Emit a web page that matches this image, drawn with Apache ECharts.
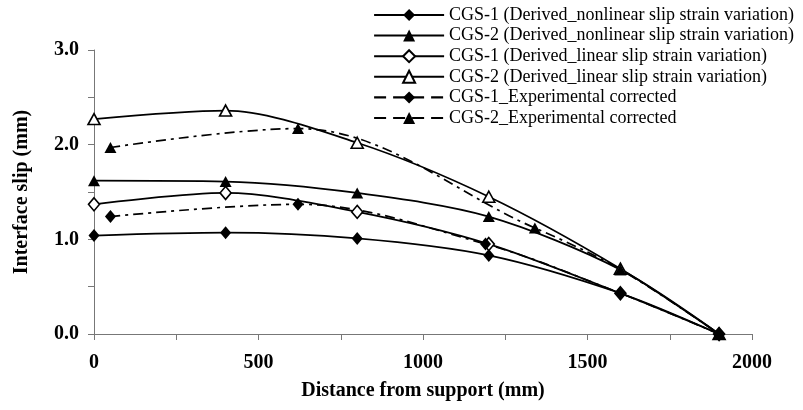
<!DOCTYPE html>
<html>
<head>
<meta charset="utf-8">
<script src="https://cdn.jsdelivr.net/npm/echarts@6/dist/echarts.min.js"></script>
<style>
  html, body { margin: 0; padding: 0; background: #fff; }
  #chart { width: 803px; height: 410px; }
</style>
</head>
<body>
<div id="chart"></div>
<script>
// Distance from support (mm) for the derived curves and the two test records
const xDerived = [0, 400, 800, 1200, 1600, 1900];
const xExp1 = [50, 620, 1190, 1600, 1900];
const xExp2 = [50, 620, 1340, 1600, 1900];

// Interface slip (mm)
const cgs1Nonlinear = [1.04, 1.07, 1.01, 0.83, 0.43, 0.0];
const cgs2Nonlinear = [1.62, 1.61, 1.49, 1.24, 0.68, 0.0];
const cgs1Linear = [1.37, 1.49, 1.29, 0.95, 0.43, 0.0];
const cgs2Linear = [2.27, 2.36, 2.02, 1.45, 0.69, 0.0];
const cgs1Exp = [1.24, 1.37, 0.95, 0.43, 0.0];
const cgs2Exp = [1.97, 2.17, 1.12, 0.68, 0.0];

const seriesNames = [
  'CGS-1 (Derived_nonlinear slip strain variation)',
  'CGS-2 (Derived_nonlinear slip strain variation)',
  'CGS-1 (Derived_linear slip strain variation)',
  'CGS-2 (Derived_linear slip strain variation)',
  'CGS-1_Experimental corrected',
  'CGS-2_Experimental corrected'
];

const FONT = '"Liberation Serif", "Times New Roman", serif';

function pairs(xs, ys) {
  return xs.map((x, i) => [x, ys[i]]);
}

function makeSeries(name, xs, ys, symbol, hollow, dashed) {
  const isDiamond = symbol === 'diamond';
  return {
    name: name,
    type: 'line',
    data: pairs(xs, ys),
    smooth: dashed ? 0.35 : 0.3,
    symbol: symbol,
    symbolSize: isDiamond ? [11, 13] : [12, 11],
    showAllSymbol: true,
    lineStyle: {
      color: '#000',
      width: 1.7,
      type: dashed ? [10, 5, 3, 5] : 'solid'
    },
    itemStyle: {
      color: hollow ? '#fff' : '#000',
      borderColor: '#000',
      borderWidth: hollow ? 1.6 : 0
    },
    emphasis: { disabled: true },
    animation: false
  };
}

// legend keys of the test records use plain long dashes
const legendData = seriesNames.map((name, i) => (
  i >= 4 ? { name: name, lineStyle: { type: [12, 7], width: 2.2 } } : { name: name, lineStyle: { width: 2 } }
));

const chart = echarts.init(document.getElementById('chart'), null, { renderer: 'canvas' });

chart.setOption({
  backgroundColor: '#fff',
  animation: false,
  grid: { left: 94, right: 51, top: 50, bottom: 76 },
  legend: {
    orient: 'vertical',
    left: 373,
    top: 6,
    padding: 0,
    itemWidth: 70,
    itemHeight: 15,
    itemGap: 2.6,
    textStyle: { fontFamily: FONT, fontSize: 18, lineHeight: 18, color: '#000' },
    data: legendData
  },
  xAxis: {
    type: 'value',
    min: 0,
    max: 2000,
    interval: 250,
    name: 'Distance from support (mm)',
    nameLocation: 'middle',
    nameGap: 47,
    nameTextStyle: { fontFamily: FONT, fontSize: 20, fontWeight: 'bold', color: '#000' },
    axisLine: { show: true, lineStyle: { color: '#777', width: 1 } },
    axisTick: { show: true, inside: false, length: 6, lineStyle: { color: '#777' } },
    axisLabel: {
      fontFamily: FONT, fontSize: 20, fontWeight: 'bold', color: '#000', margin: 19,
      formatter: v => (v % 500 === 0 ? String(v) : '')
    },
    splitLine: { show: false }
  },
  yAxis: {
    type: 'value',
    min: 0,
    max: 3,
    interval: 0.5,
    name: 'Interface slip (mm)',
    nameLocation: 'middle',
    nameGap: 62,
    nameRotate: 90,
    nameTextStyle: { fontFamily: FONT, fontSize: 20, fontWeight: 'bold', color: '#000' },
    axisLine: { show: true, lineStyle: { color: '#777', width: 1 } },
    axisTick: { show: true, inside: false, length: 6, lineStyle: { color: '#777' } },
    axisLabel: {
      fontFamily: FONT, fontSize: 20, fontWeight: 'bold', color: '#000', margin: 15,
      formatter: v => (Math.abs(v - Math.round(v)) < 1e-9 ? v.toFixed(1) : '')
    },
    splitLine: { show: false }
  },
  series: [
    makeSeries(seriesNames[0], xDerived, cgs1Nonlinear, 'diamond', false, false),
    makeSeries(seriesNames[1], xDerived, cgs2Nonlinear, 'triangle', false, false),
    makeSeries(seriesNames[2], xDerived, cgs1Linear, 'diamond', true, false),
    makeSeries(seriesNames[3], xDerived, cgs2Linear, 'triangle', true, false),
    makeSeries(seriesNames[4], xExp1, cgs1Exp, 'diamond', false, true),
    makeSeries(seriesNames[5], xExp2, cgs2Exp, 'triangle', false, true)
  ]
});
</script>
</body>
</html>
